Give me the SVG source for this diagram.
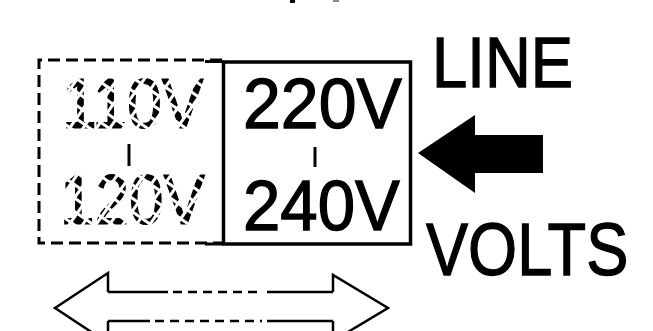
<svg xmlns="http://www.w3.org/2000/svg" width="653" height="331" viewBox="0 0 653 331">
<style>
.t{font-family:"Liberation Sans",Arial,sans-serif;fill:#000;stroke:#000;stroke-width:1.3}
.ln{stroke:#000;fill:none;stroke-width:3}
.dash{stroke:#000;fill:none;stroke-width:3;stroke-dasharray:12 6}
</style>
<defs>
<pattern id="grid" width="11" height="11" patternUnits="userSpaceOnUse" patternTransform="rotate(35)">
<rect x="0" y="0" width="8" height="8" fill="#fff"/>
</pattern>
<mask id="dashmask" maskUnits="userSpaceOnUse" x="0" y="0" width="653" height="331">
<rect x="0" y="0" width="653" height="331" fill="url(#grid)"/>
</mask>
</defs>
<rect width="653" height="331" fill="#fff"/>
<g id="top-mark"><rect x="290" y="0" width="5" height="3" fill="#000"/><rect x="333" y="0" width="6" height="2" fill="#888"/></g>
<g id="node-110-120">
<path class="dash" d="M222,60 H39 V243 H222"/>
<g mask="url(#dashmask)">
<text class="t" font-size="70" transform="translate(62,128) scale(0.893,1)" style="stroke-width:1.2">110V</text>
<text class="t" font-size="70" transform="translate(60,224) scale(0.887,1)" style="stroke-width:1.2">120V</text>
</g>
<line class="ln" x1="129" y1="144" x2="129" y2="166" stroke-width="3.5"/>
</g>
<g id="node-220-240">
<path class="ln" d="M205,61.5 H223"/>
<path class="ln" d="M205,244 H223"/>
<rect x="223.5" y="62" width="187" height="182" fill="none" stroke="#000" stroke-width="3.5"/>
<text class="t" font-size="70" transform="translate(243,128) scale(0.972,1)">220V</text>
<text class="t" font-size="70" transform="translate(243,230) scale(0.96,1)">240V</text>
<line class="ln" x1="315" y1="147" x2="315" y2="167" stroke-width="3.5"/>
</g>
<g id="node-line-volts">
<text class="t" font-size="70" transform="translate(432,87) scale(0.906,1)">LINE</text>
<text class="t" font-size="74" transform="translate(426,275) scale(0.853,1)">VOLTS</text>
</g>
<g id="connectors">
<path d="M418,153 L475,115 L475,135 L543,135 L543,173 L475,173 L475,193 Z" fill="#000"/>
<g stroke="#000" fill="none" stroke-width="2.5" stroke-linejoin="miter">
<path d="M108,292 V273 L55,308 L108,343 V321"/>
<path d="M333,292 V275 L388,308 L333,341 V321"/>
<path d="M108,292 H168 M267,292 H333 M108,321 H150 M267,321 H333"/>
<path d="M173,292 H262 M155,321 H262" stroke-dasharray="9 6"/>
</g>
</g>
</svg>
